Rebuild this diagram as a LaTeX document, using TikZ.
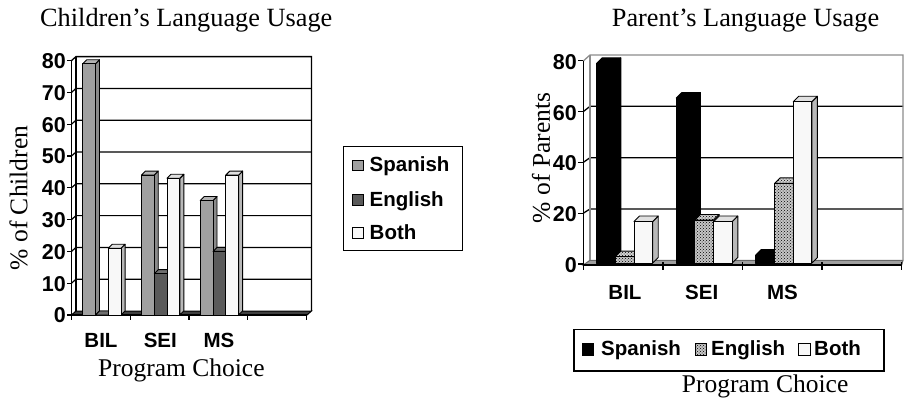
\documentclass[tikz,border=0pt]{standalone}
\usepackage{fontspec}
\setmainfont{Liberation Serif}
\setsansfont{Liberation Sans}
\usetikzlibrary{patterns}
\definecolor{spnF}{HTML}{A0A0A0}
\definecolor{spnS}{HTML}{8A8A8A}
\definecolor{spnT}{HTML}{B4B4B4}
\definecolor{engF}{HTML}{5A5A5A}
\definecolor{engS}{HTML}{404040}
\definecolor{engT}{HTML}{6E6E6E}
\definecolor{bthF}{HTML}{F8F8F8}
\definecolor{bthS}{HTML}{B8B8B8}
\definecolor{bthT}{HTML}{E0E0E0}
\definecolor{wallgray}{HTML}{8C8C8C}
\newcommand\drawbar[8]{%
  \pgfmathsetmacro\bxa{#1}%
  \pgfmathsetmacro\bxb{#1+#2}%
  \pgfmathsetmacro\byb{#3}%
  \pgfmathsetmacro\byt{#3-#4}%
  \pgfmathsetmacro\bd{#5}%
  \path[#7] (\bxb,\byb) -- (\bxb+\bd,\byb-\bd) -- (\bxb+\bd,\byt-\bd) -- (\bxb,\byt) -- cycle;
  \path[#8] (\bxa,\byt) -- (\bxa+\bd,\byt-\bd) -- (\bxb+\bd,\byt-\bd) -- (\bxb,\byt) -- cycle;
  \path[#6] (\bxa,\byb) rectangle (\bxb,\byt);
}
\begin{document}
\begin{tikzpicture}[x=1pt,y=-1pt,
  serif/.style={font=\fontsize{25.5}{30}\selectfont, inner sep=0pt},
  ttl/.style={font=\fontsize{26.3}{31}\selectfont, inner sep=0pt},
  lab/.style={font=\sffamily\bfseries\fontsize{20.5}{24}\selectfont, inner sep=0pt},
  tick/.style={font=\sffamily\bfseries\fontsize{21.5}{25}\selectfont, inner sep=0pt},
  axisline/.style={draw=black, line width=1.3pt},
  barline/.style={draw=black, line width=0.9pt, line join=round},
  lsF/.style={barline, fill=spnF}, lsS/.style={barline, fill=spnS}, lsT/.style={barline, fill=spnT},
  leF/.style={barline, fill=engF}, leS/.style={barline, fill=engS}, leT/.style={barline, fill=engT},
  lbF/.style={barline, fill=bthF}, lbS/.style={barline, fill=bthS}, lbT/.style={barline, fill=bthT},
  rsF/.style={barline, fill=black}, rsS/.style={barline, fill=black}, rsT/.style={barline, fill=black},
  reF/.style={barline, preaction={fill=gray!45}, pattern=crosshatch dots, pattern color=black},
  reS/.style={barline, preaction={fill=gray!80}, pattern=crosshatch dots, pattern color=black},
  reT/.style={barline, preaction={fill=gray!35}, pattern=crosshatch dots, pattern color=black},
  legbox/.style={draw=black, line width=1.5pt},
  legmark/.style={draw=black, line width=1pt}
]
\useasboundingbox (0,0) rectangle (911,407);

% ================= LEFT CHART =================
\path[draw=black, line width=1pt, fill=black!75] (71.5,315) -- (307,315) -- (311.5,311) -- (76,311) -- cycle;
\foreach \v in {10,20,...,70} {
  \draw[line width=1.2pt] (71.5,315-3.18*\v) -- (76,311-3.18*\v) -- (311.5,311-3.18*\v);
}
\draw[axisline] (71.5,60.6) -- (76,56.6) -- (311.5,56.6) -- (311.5,311);
\draw[axisline] (76,56.6) -- (76,311);
\draw[axisline] (71.5,60.6) -- (71.5,315) -- (307,315);
\foreach \v in {0,10,...,80} {
  \draw[axisline] (67,315-3.18*\v) -- (71.5,315-3.18*\v);
  \node[tick, anchor=east] at (66,315.5-3.18*\v) {\v};
}
\foreach \i in {0,1,2,3,4} {
  \draw[axisline] (71.5+58.75*\i,315) -- (71.5+58.75*\i,319.5);
}
\drawbar{82.7}{12.8}{315}{3.18*79}{4}{lsF}{lsS}{lsT}
\drawbar{95.5}{12.8}{315}{0}{4}{leF}{leS}{leT}
\drawbar{108.3}{12.8}{315}{3.18*21}{4}{lbF}{lbS}{lbT}
\drawbar{141.45}{12.8}{315}{3.18*44}{4}{lsF}{lsS}{lsT}
\drawbar{154.25}{12.8}{315}{3.18*13}{4}{leF}{leS}{leT}
\drawbar{167.05}{12.8}{315}{3.18*43}{4}{lbF}{lbS}{lbT}
\drawbar{200.2}{12.8}{315}{3.18*36}{4}{lsF}{lsS}{lsT}
\drawbar{213}{12.8}{315}{3.18*20}{4}{leF}{leS}{leT}
\drawbar{225.8}{12.8}{315}{3.18*44}{4}{lbF}{lbS}{lbT}

\node[ttl, anchor=base west] (t1) at (40,26.8) {Children’s Language Usage};
\node[serif, rotate=90] (yl1) at (18.5,198) {\% of Children};
\node[lab, anchor=base] (cb1) at (101,347.3) {BIL};
\node[lab, anchor=base] (cs1) at (160.3,347.3) {SEI};
\node[lab, anchor=base] (cm1) at (219,347.3) {MS};
\node[serif, anchor=base west] (pc1) at (98,376.7) {Program Choice};

\draw[legbox] (343.3,146.7) rectangle (462.7,250.7);
\draw[legmark, fill=spnF] (352,160) rectangle (363,170.7);
\draw[legmark, fill=engF] (352,194.7) rectangle (363,205.3);
\draw[legmark, fill=bthF] (352,227.5) rectangle (363,238.2);
\node[lab, anchor=base west] (lg1) at (369.5,171.5) {Spanish};
\node[lab, anchor=base west] (lg2) at (369.5,206) {English};
\node[lab, anchor=base west] (lg3) at (369.5,239) {Both};

% ================= RIGHT CHART =================
\path[draw=black!60, line width=1pt, fill=gray!75] (583.3,265) -- (901.7,265) -- (903,260.3) -- (590,260.3) -- cycle;
\foreach \v in {20,40,60} {
  \draw[line width=1.3pt] (583.3,264-2.54*\v) -- (590,260.3-2.566*\v) -- (903,260.3-2.566*\v);
}
\draw[draw=wallgray, line width=1.3pt] (583.3,61) -- (590,55) -- (903,55) -- (903,260.3);
\draw[draw=wallgray, line width=1.3pt] (590,55) -- (590,260.3);
\draw[axisline] (583.3,61) -- (583.3,265) -- (901.7,265);
\foreach \v in {0,20,...,80} {
  \draw[axisline] (578,264-2.54*\v) -- (583.3,264-2.54*\v);
  \node[tick, anchor=east] at (577,265-2.54*\v) {\v};
}
\foreach \i in {0,1,2,3,4} {
  \draw[axisline] (583.3+79.6*\i,262) -- (583.3+79.6*\i,269.5);
}
\drawbar{596.6}{18.7}{263}{2.56*78}{5.5}{rsF}{rsS}{rsT}
\drawbar{615.3}{18.7}{263}{2.56*2.5}{5.5}{reF}{reS}{reT}
\drawbar{634}{18.7}{263}{2.56*16.2}{5.5}{lbF}{lbS}{lbT}
\drawbar{676.2}{18.7}{263}{2.56*64.4}{5.5}{rsF}{rsS}{rsT}
\drawbar{694.9}{18.7}{263}{2.56*16.8}{5.5}{reF}{reS}{reT}
\drawbar{713.6}{18.7}{263}{2.56*16.2}{5.5}{lbF}{lbS}{lbT}
\drawbar{755.8}{18.7}{263}{2.56*3.1}{5.5}{rsF}{rsS}{rsT}
\drawbar{774.5}{18.7}{263}{2.56*31.1}{5.5}{reF}{reS}{reT}
\drawbar{793.2}{18.7}{263}{2.56*63}{5.5}{lbF}{lbS}{lbT}

\node[ttl, anchor=base west] (t2) at (611.7,26.8) {Parent’s Language Usage};
\node[serif, rotate=90] (yl2) at (541,158) {\% of Parents};
\node[lab, anchor=base] (cb2) at (625,299.3) {BIL};
\node[lab, anchor=base] (cs2) at (701.7,299.3) {SEI};
\node[lab, anchor=base] (cm2) at (782.5,299.3) {MS};
\node[serif, anchor=base west] (pc2) at (681.7,392) {Program Choice};

\draw[legbox] (574,329.3) rectangle (884,371);
\draw[legmark, fill=black] (582,343.5) rectangle (593.5,355);
\draw[legmark, preaction={fill=gray!45}, pattern=crosshatch dots] (695.3,343.5) rectangle (706.8,355);
\draw[legmark, fill=bthF] (798.5,343.5) rectangle (810,355);
\node[lab, anchor=base west] (rg1) at (601,355) {Spanish};
\node[lab, anchor=base west] (rg2) at (711,355) {English};
\node[lab, anchor=base west] (rg3) at (814,355) {Both};
\end{tikzpicture}
\end{document}
